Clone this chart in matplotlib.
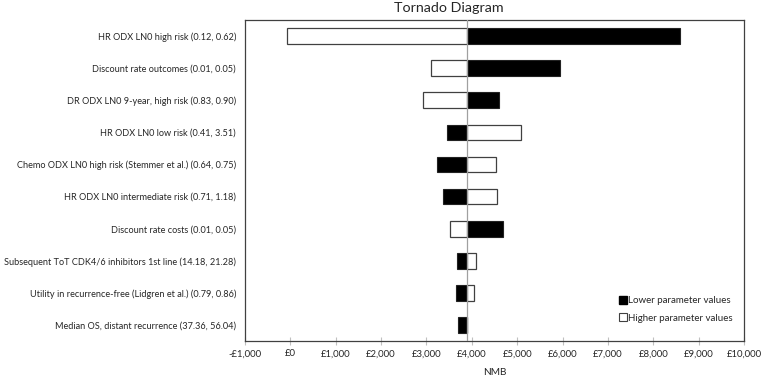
import matplotlib
matplotlib.use("Agg")
import matplotlib.pyplot as plt
from matplotlib.lines import Line2D
import numpy as np

parameters = [
    "HR ODX LN0 high risk (0.12, 0.62)",
    "Discount rate outcomes (0.01, 0.05)",
    "DR ODX LN0 9-year, high risk (0.83, 0.90)",
    "HR ODX LN0 low risk (0.41, 3.51)",
    "Chemo ODX LN0 high risk (Stemmer et al.) (0.64, 0.75)",
    "HR ODX LN0 intermediate risk (0.71, 1.18)",
    "Discount rate costs (0.01, 0.05)",
    "Subsequent ToT CDK4/6 inhibitors 1st line (14.18, 21.28)",
    "Utility in recurrence-free (Lidgren et al.) (0.79, 0.86)",
    "Median OS, distant recurrence (37.36, 56.04)",
]
base_nmb = 3885
lower_values = [8597, 5951, 4600, 3446, 3233, 3372, 4695, 3681, 3659, 3703]
higher_values = [-81, 3100, 2924, 5092, 4534, 4556, 3527, 4085, 4056, 3885]
x_ticks = [-1000, 0, 1000, 2000, 3000, 4000, 5000, 6000, 7000, 8000, 9000, 10000]

plt.rcParams['font.family'] = ['Lato', 'DejaVu Sans']
txt = '#262626'

fig = plt.figure(figsize=(7.64, 3.82), dpi=100)
ax = fig.add_axes([0.3207, 0.1073, 0.6531, 0.8403])

y = np.arange(len(parameters))
lo = np.array(lower_values, dtype=float)
hi = np.array(higher_values, dtype=float)
h = 0.49
ax.barh(y, lo - base_nmb, left=base_nmb, height=h, color='black', edgecolor='#222222', linewidth=0.8, zorder=2)
ax.barh(y, hi - base_nmb, left=base_nmb, height=h, color='white', edgecolor='#404040', linewidth=0.9, zorder=2)
ax.axvline(base_nmb, color='#a0a0a0', linewidth=0.9, zorder=3)

ax.set_ylim(len(parameters) - 0.5, -0.5)
ax.set_yticks(y)
ax.set_yticklabels(parameters, fontsize=6.6, color=txt)
ax.tick_params(axis='y', length=0, pad=6.5)

ax.set_xlim(-1000, 10000)
ax.set_xticks(x_ticks)
ax.set_xticklabels([("-£{:,}".format(-v) if v < 0 else "£{:,}".format(v)) for v in x_ticks], fontsize=6.8, color=txt)
ax.tick_params(axis='x', direction='inout', length=6, width=0.8, color='#c0c0c0', pad=3)

for s in ax.spines.values():
    s.set_color('#404040')
    s.set_linewidth(0.9)

ax.set_xlabel('NMB', fontsize=7.2, color=txt, labelpad=7)
fig.text(449 / 764, 1 - 8 / 382, 'Tornado Diagram', fontsize=10.3, color=txt, ha='center', va='center')

handles = [
    Line2D([], [], marker='s', linestyle='none', markersize=6, markerfacecolor='black', markeredgecolor='black'),
    Line2D([], [], marker='s', linestyle='none', markersize=6, markerfacecolor='white', markeredgecolor='#404040', markeredgewidth=0.8),
]
ax.legend(handles, ['Lower parameter values', 'Higher parameter values'], loc='lower right',
          bbox_to_anchor=(0.985, 0.045), borderaxespad=0, frameon=False, fontsize=7.0, handlelength=0.6,
          handletextpad=0.2, labelspacing=0.85, labelcolor=txt)

fig.savefig('out.png', dpi=100)
